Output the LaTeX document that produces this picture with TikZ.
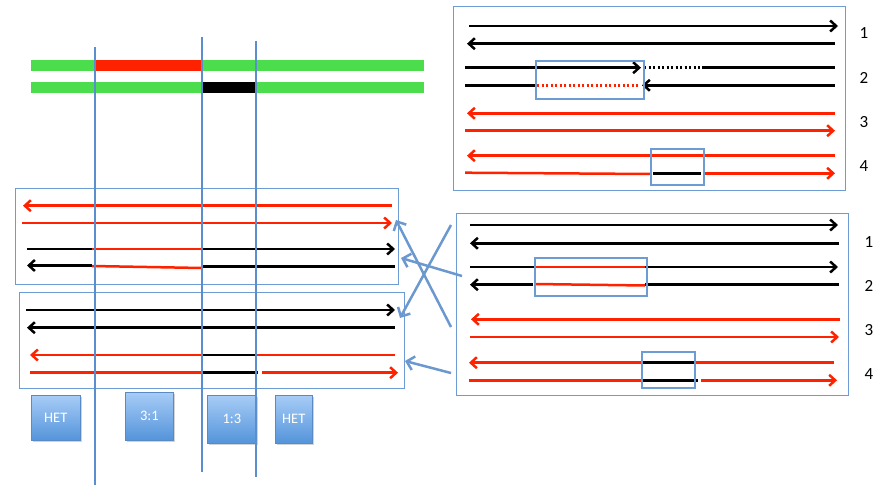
\documentclass[tikz,border=0pt]{standalone}
\usepackage{fontspec}
\setmainfont{Carlito}
\usetikzlibrary{arrows.meta,shadows}
\definecolor{myred}{HTML}{FF2200}
\definecolor{mygreen}{HTML}{4CDD4C}
\definecolor{vblue}{HTML}{5B8ECF}
\definecolor{bxblue}{HTML}{6D9BD4}
\definecolor{arblue}{HTML}{6B98CF}
\definecolor{tagtop}{HTML}{A7CCF7}
\definecolor{tagbot}{HTML}{5494DA}
\definecolor{tagedge}{HTML}{5A8AC6}
\tikzset{
  blk/.style={line width=2.5pt, draw=black},
  rd/.style={line width=2.5pt, draw=myred},
  tip/.style={-{Straight Barb[length=6pt,width=11pt]}},
  frame/.style={draw=bxblue, line width=1.2pt},
  inbox/.style={draw=bxblue, line width=1.8pt},
  vline/.style={draw=vblue, line width=2.5pt},
  conn/.style={draw=arblue, line width=2.5pt, -{Straight Barb[length=7pt,width=14pt]}},
  num/.style={font=\fontsize{17}{20}\selectfont, text=black},
  tag/.style={draw=tagedge, line width=0.6pt, top color=tagtop, bottom color=tagbot,
    text=white, font=\fontsize{14.5}{16}\selectfont, inner sep=0pt, anchor=north west,
    drop shadow={opacity=0.35, shadow xshift=1.5pt, shadow yshift=-1.5pt}}
}
\begin{document}
\begin{tikzpicture}[x=1pt,y=-1pt]
\useasboundingbox (0,0) rectangle (894,487);
% chromosome bars
\fill[mygreen] (31,60) rectangle (424,71);
\fill[myred] (95,60) rectangle (201,71);
\fill[mygreen] (31,82) rectangle (424,93);
\fill[black] (203,82) rectangle (256,93);

% ---------- top right box ----------
\node[frame, minimum width=392pt, minimum height=184pt, anchor=north west, inner sep=0pt] (TR) at (453,6) {};
\draw[blk,tip] (469,26) -- (838,26);
\draw[blk,tip] (835,43.7) -- (467,43.7);
\draw[blk,tip] (465,67.7) -- (641,67.7);
\draw[line width=2.5pt, black, dash pattern=on 2pt off 2.5pt] (644,67.7) -- (701,67.7);
\draw[blk] (702,67.7) -- (835,67.7);
\draw[blk] (465,85.3) -- (535,85.3);
\draw[line width=2.5pt, myred, dash pattern=on 2pt off 2.5pt] (537,85.3) -- (640,85.3);
\draw[blk,tip] (835,85.3) -- (642,85.3);
\draw[rd,tip] (835,113.3) -- (467,113.3);
\draw[rd,tip] (465,130.7) -- (835,130.7);
\draw[rd,tip] (835,155.7) -- (467,155.7);
\draw[rd] (465,172.7) -- (651,174);
\draw[blk] (653,173.3) -- (701,173.3);
\draw[rd,tip] (705,173.3) -- (835,173.3);
\node[inbox, minimum width=108pt, minimum height=38pt, anchor=north west, inner sep=0pt] (TRb2) at (535,60) {};
\node[inbox, minimum width=53pt, minimum height=36pt, anchor=north west, inner sep=0pt] (TRb4) at (650,148) {};
\node[num] (t1) at (864,33) {1};
\node[num] (t2) at (864,78) {2};
\node[num] (t3) at (864,122) {3};
\node[num] (t4) at (864,166) {4};

% ---------- bottom right box ----------
\node[frame, minimum width=392pt, minimum height=182pt, anchor=north west, inner sep=0pt] (BR) at (456,213) {};
\draw[blk,tip] (470,225) -- (838,225);
\draw[blk,tip] (839,243.3) -- (470,243.3);
\draw[blk] (470,267) -- (535,267);
\draw[rd] (535,267) -- (645,267);
\draw[blk,tip] (645,267) -- (838,267);
\draw[blk,tip] (533,284.7) -- (470,284.7);
\draw[rd] (535,284) -- (645,285.5);
\draw[blk] (645,284.7) -- (839,284.7);
\draw[rd,tip] (840,319.3) -- (471,319.3);
\draw[rd,tip] (470,337) -- (839,337);
\draw[rd,tip] (641,362.7) -- (469,362.7);
\draw[blk] (641,362.7) -- (694,362.7);
\draw[rd] (694,362.7) -- (834,362.7);
\draw[rd] (469,380.3) -- (641,380.3);
\draw[blk] (641,380.3) -- (698,380.3);
\draw[rd,tip] (701,380.3) -- (837,380.3);
\node[inbox, minimum width=112pt, minimum height=38pt, anchor=north west, inner sep=0pt] (BRb2) at (534,257) {};
\node[inbox, minimum width=53.6pt, minimum height=36.6pt, anchor=north west, inner sep=0pt] (BRb4) at (640.7,350.7) {};
\node[num] (b1) at (869,242) {1};
\node[num] (b2) at (869,286) {2};
\node[num] (b3) at (869,330) {3};
\node[num] (b4) at (869,374) {4};

% ---------- left box 1 ----------
\node[frame, minimum width=383pt, minimum height=96pt, anchor=north west, inner sep=0pt] (L1) at (15,188) {};
\draw[rd,tip] (392,205.7) -- (23,205.7);
\draw[rd,tip] (22,223) -- (392,223);
\draw[blk] (27,249) -- (92,249);
\draw[rd] (92,249) -- (202,249);
\draw[blk,tip] (202,249) -- (395,249);
\draw[blk,tip] (92,265.5) -- (27,265.5);
\draw[rd] (92,266) -- (202,268);
\draw[blk] (202,266.7) -- (395,266.7);

% ---------- left box 2 ----------
\node[frame, minimum width=385pt, minimum height=96pt, anchor=north west, inner sep=0pt] (L2) at (19,292) {};
\draw[blk,tip] (26,310) -- (395,310);
\draw[blk,tip] (395,327.7) -- (27,327.7);
\draw[rd,tip] (202,355) -- (30,355);
\draw[blk] (202,355) -- (256,355);
\draw[rd] (256,355) -- (395,355);
\draw[rd] (30,372.7) -- (202,372.7);
\draw[blk] (202,372.7) -- (258,372.7);
\draw[rd,tip] (262,372.7) -- (398,372.7);

% ---------- connectors ----------
\coordinate (aS) at (451,225); \coordinate (aE) at (400,318);
\coordinate (bS) at (451,327); \coordinate (bE) at (396,220);
\coordinate (cS) at (462,276); \coordinate (cE) at (401,258);
\coordinate (dS) at (451,373); \coordinate (dE) at (405,361);
\draw[conn] (aS) -- (aE);
\draw[conn] (bS) -- (bE);
\draw[conn] (cS) -- (cE);
\draw[conn] (dS) -- (dE);

% ---------- tags ----------
\node[tag, minimum width=49pt, minimum height=45pt] (het1) at (31,395) {HET};
\node[tag, minimum width=48pt, minimum height=48pt] (r31) at (125,392) {3:1};
\node[tag, minimum width=49pt, minimum height=48pt] (r13) at (207,395) {1:3};
\node[tag, minimum width=37pt, minimum height=48pt] (het2) at (275,395) {HET};

% ---------- vertical lines ----------
\draw[vline] (95,47) -- (95,485);
\draw[vline] (202,37) -- (202,472);
\draw[vline] (256,41) -- (256,477);
\end{tikzpicture}
\end{document}
